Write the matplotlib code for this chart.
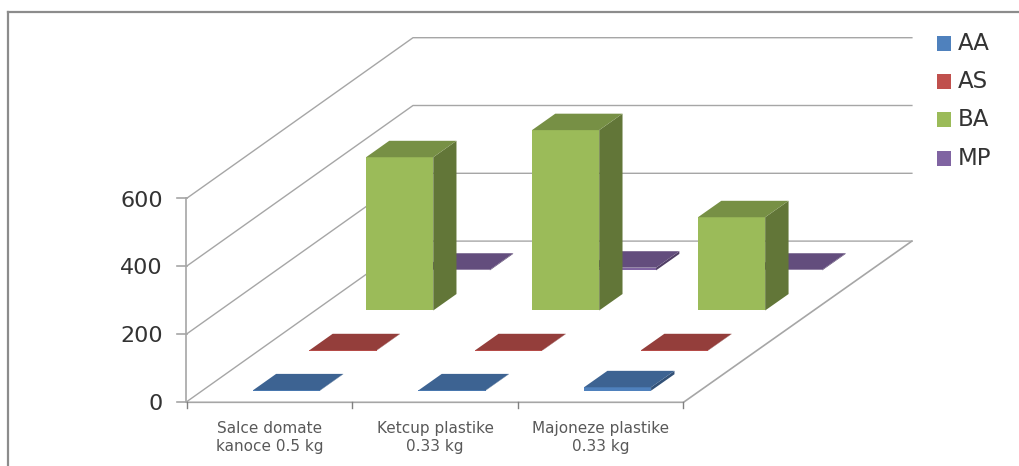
import matplotlib.pyplot as plt
from matplotlib.patches import Polygon, Rectangle
import numpy as np

categories = ['Salce domate\nkanoce 0.5 kg', 'Ketcup plastike\n0.33 kg', 'Majoneze plastike\n0.33 kg']
series_names = ['AA', 'AS', 'BA', 'MP']
aa_values = [1, 1, 10]
as_values = [1, 1, 1]
ba_values = [452, 532, 275]
mp_values = [2, 8, 2]
y_ticks = [0, 200, 400, 600]

series_values = [aa_values, as_values, ba_values, mp_values]
series_colors = ['#4F81BD', '#C0504D', '#9BBB59', '#8064A2']

# Oblique projection of the box, all in pixels
ORIGIN_X = 187.0
ORIGIN_Y = 401.5
CAT_WIDTH = 165.5
PX_PER_UNIT = 67.8 / 200
DEPTH_DX = 56.5
DEPTH_DY = -40.1
SPREAD = 0.2  # back wall is a touch wider than the front edge
BAR_WIDTH = 0.405
BAR_DEPTH = 0.41
BAR_SHIFT_Y = 1.0

GRID = '#a6a6a6'
FRAME = '#8c8c8c'


def project(cat, depth, value):
    x = ORIGIN_X + cat * CAT_WIDTH + depth * DEPTH_DX + cat * depth * SPREAD
    y = ORIGIN_Y + depth * DEPTH_DY - value * PX_PER_UNIT
    return x, y


def shade(color, factor):
    rgb = np.array(plt.matplotlib.colors.to_rgb(color))
    return tuple(rgb * factor)


def draw_bar(ax, cat_index, series_index, value, color):
    c0 = cat_index + 0.5 - BAR_WIDTH / 2
    c1 = cat_index + 0.5 + BAR_WIDTH / 2
    d0 = series_index + 0.5 - BAR_DEPTH / 2
    d1 = series_index + 0.5 + BAR_DEPTH / 2
    front = [project(c0, d0, 0), project(c1, d0, 0), project(c1, d0, value), project(c0, d0, value)]
    side = [project(c1, d0, 0), project(c1, d1, 0), project(c1, d1, value), project(c1, d0, value)]
    top = [project(c0, d0, value), project(c1, d0, value), project(c1, d1, value), project(c0, d1, value)]
    z = 10 + (len(series_names) - series_index) * 10 + cat_index
    for pts, col in [(front, color), (side, shade(color, 0.63)), (top, shade(color, 0.77))]:
        moved = [(x, y + BAR_SHIFT_Y) for x, y in pts]
        ax.add_patch(Polygon(moved, closed=True, fc=col, ec='none', zorder=z))


fig = plt.figure(figsize=(10.19, 4.66), dpi=100)
ax = fig.add_axes([0, 0, 1, 1])
ax.set_xlim(0, 1019)
ax.set_ylim(466, 0)
ax.axis('off')

n_cat = len(categories)
n_ser = len(series_names)

# Outer frame, only left and top are visible
ax.plot([8.5, 8.5], [466, 12], color=FRAME, lw=1.6, zorder=1)
ax.plot([8.5, 1019], [12, 12], color=FRAME, lw=1.6, zorder=1)

# Gridlines running along the side wall and the back wall
for tick in y_ticks:
    pts = [project(0, 0, tick), project(0, n_ser, tick), project(n_cat, n_ser, tick)]
    ax.plot([p[0] for p in pts], [p[1] for p in pts], color=GRID, lw=1.0, zorder=2)

# Floor edges
floor = [project(0, 0, 0), project(n_cat, 0, 0), project(n_cat, n_ser, 0)]
ax.plot([p[0] for p in floor], [p[1] + 0.8 * (i < 2) for i, p in enumerate(floor)], color=GRID, lw=1.2, zorder=2)

# Value axis with ticks and labels
x0, y_low = project(0, 0, 0)
_, y_high = project(0, 0, y_ticks[-1])
ax.plot([x0 - 1, x0 - 1], [y_low, y_high], color=GRID, lw=1.2, zorder=2)
for tick in y_ticks:
    _, y = project(0, 0, tick)
    ax.plot([x0 - 10, x0], [y, y], color=GRID, lw=1.2, zorder=2)
    ax.text(163, y + 2.5, str(tick), ha='right', va='center', fontsize=16, color='#333333', family='DejaVu Sans')

# Category ticks and labels
for i in range(n_cat + 1):
    x, y = project(i, 0, 0)
    ax.plot([x, x], [y, y + 6], color='#808080', lw=1.0, zorder=2)
for i, label in enumerate(categories):
    x, y = project(i + 0.5, 0, 0)
    ax.text(x, y + 36, label, ha='center', va='center', fontsize=11, color='#595959',
            linespacing=1.3, family='DejaVu Sans')

# Bars, back row first so the front rows overlap
for s in range(n_ser - 1, -1, -1):
    for c in range(n_cat):
        draw_bar(ax, c, s, series_values[s][c], series_colors[s])

# Legend
for i, (name, color) in enumerate(zip(series_names, series_colors)):
    y = 43 + i * 38.4
    ax.add_patch(Rectangle((937, y - 7.5), 14.5, 15, fc=color, ec='none', zorder=5))
    ax.text(958, y, name, ha='left', va='center', fontsize=16.5, color='#333333', family='DejaVu Sans')

fig.savefig('out.png', dpi=100)
